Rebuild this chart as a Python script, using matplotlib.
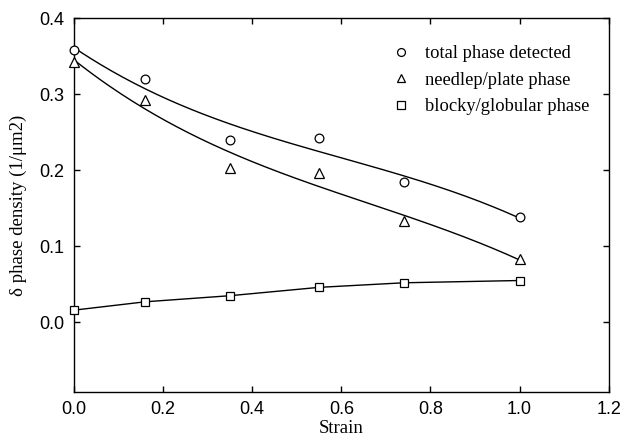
import numpy as np
import matplotlib
matplotlib.use("Agg")
import matplotlib.pyplot as plt

strain = [0.0, 0.16, 0.35, 0.55, 0.74, 1.0]
total = [0.358, 0.320, 0.240, 0.243, 0.185, 0.138]
needle = [0.342, 0.293, 0.203, 0.197, 0.133, 0.083]
blocky = [0.016, 0.027, 0.035, 0.046, 0.052, 0.055]

xticks = [0.0, 0.2, 0.4, 0.6, 0.8, 1.0, 1.2]
yticks = [0.0, 0.1, 0.2, 0.3, 0.4]

fig = plt.figure(figsize=(6.24, 4.42), dpi=100)
ax = fig.add_axes([74/624, 1-391.7/442, (608.7-74)/624, (391.7-18.3)/442])

serif = "Liberation Serif"
sans = "Liberation Sans"

xs = np.linspace(0, 1, 200)
for y in (total, needle):
    c = np.polyfit(strain, y, 3)
    ax.plot(xs, np.polyval(c, xs), color="black", lw=1.0, zorder=2, clip_on=False)
ax.plot(strain, blocky, color="black", lw=1.0, zorder=2, clip_on=False)

mk = dict(mfc="white", mec="black", mew=0.9, ls="none", zorder=3, clip_on=False)
ax.plot(strain, total, marker="o", ms=6.3, label="total phase detected", **mk)
ax.plot(strain, needle, marker="^", ms=6.5, label="needlep/plate phase", **mk)
ax.plot(strain, blocky, marker="s", ms=6.3, label="blocky/globular phase", **mk)

ax.set_xlim(0, 1.2)
ax.set_ylim(-0.0913, 0.4)
ax.set_xticks(xticks)
ax.set_yticks(yticks)
ax.set_xticklabels([f"{v:.1f}" for v in xticks], fontname=sans, fontsize=13)
ax.set_yticklabels([f"{v:.1f}" for v in yticks], fontname=sans, fontsize=13)
ax.tick_params(direction="in", top=True, right=True, length=4.5, width=1, pad=7)
for s in ax.spines.values():
    s.set_linewidth(1.0)

ax.set_xlabel("Strain", fontname=serif, fontsize=13.5, labelpad=1)
ax.set_ylabel("δ phase density (1/μm2)", fontname=serif, fontsize=13.5, labelpad=9)

leg = ax.legend(loc="upper right", bbox_to_anchor=(0.995, 0.973), frameon=False,
                prop={"family": serif, "size": 13.3}, markerscale=0.9,
                handlelength=1.0, handletextpad=0.8, labelspacing=0.52)

fig.savefig("out.png", dpi=100)
